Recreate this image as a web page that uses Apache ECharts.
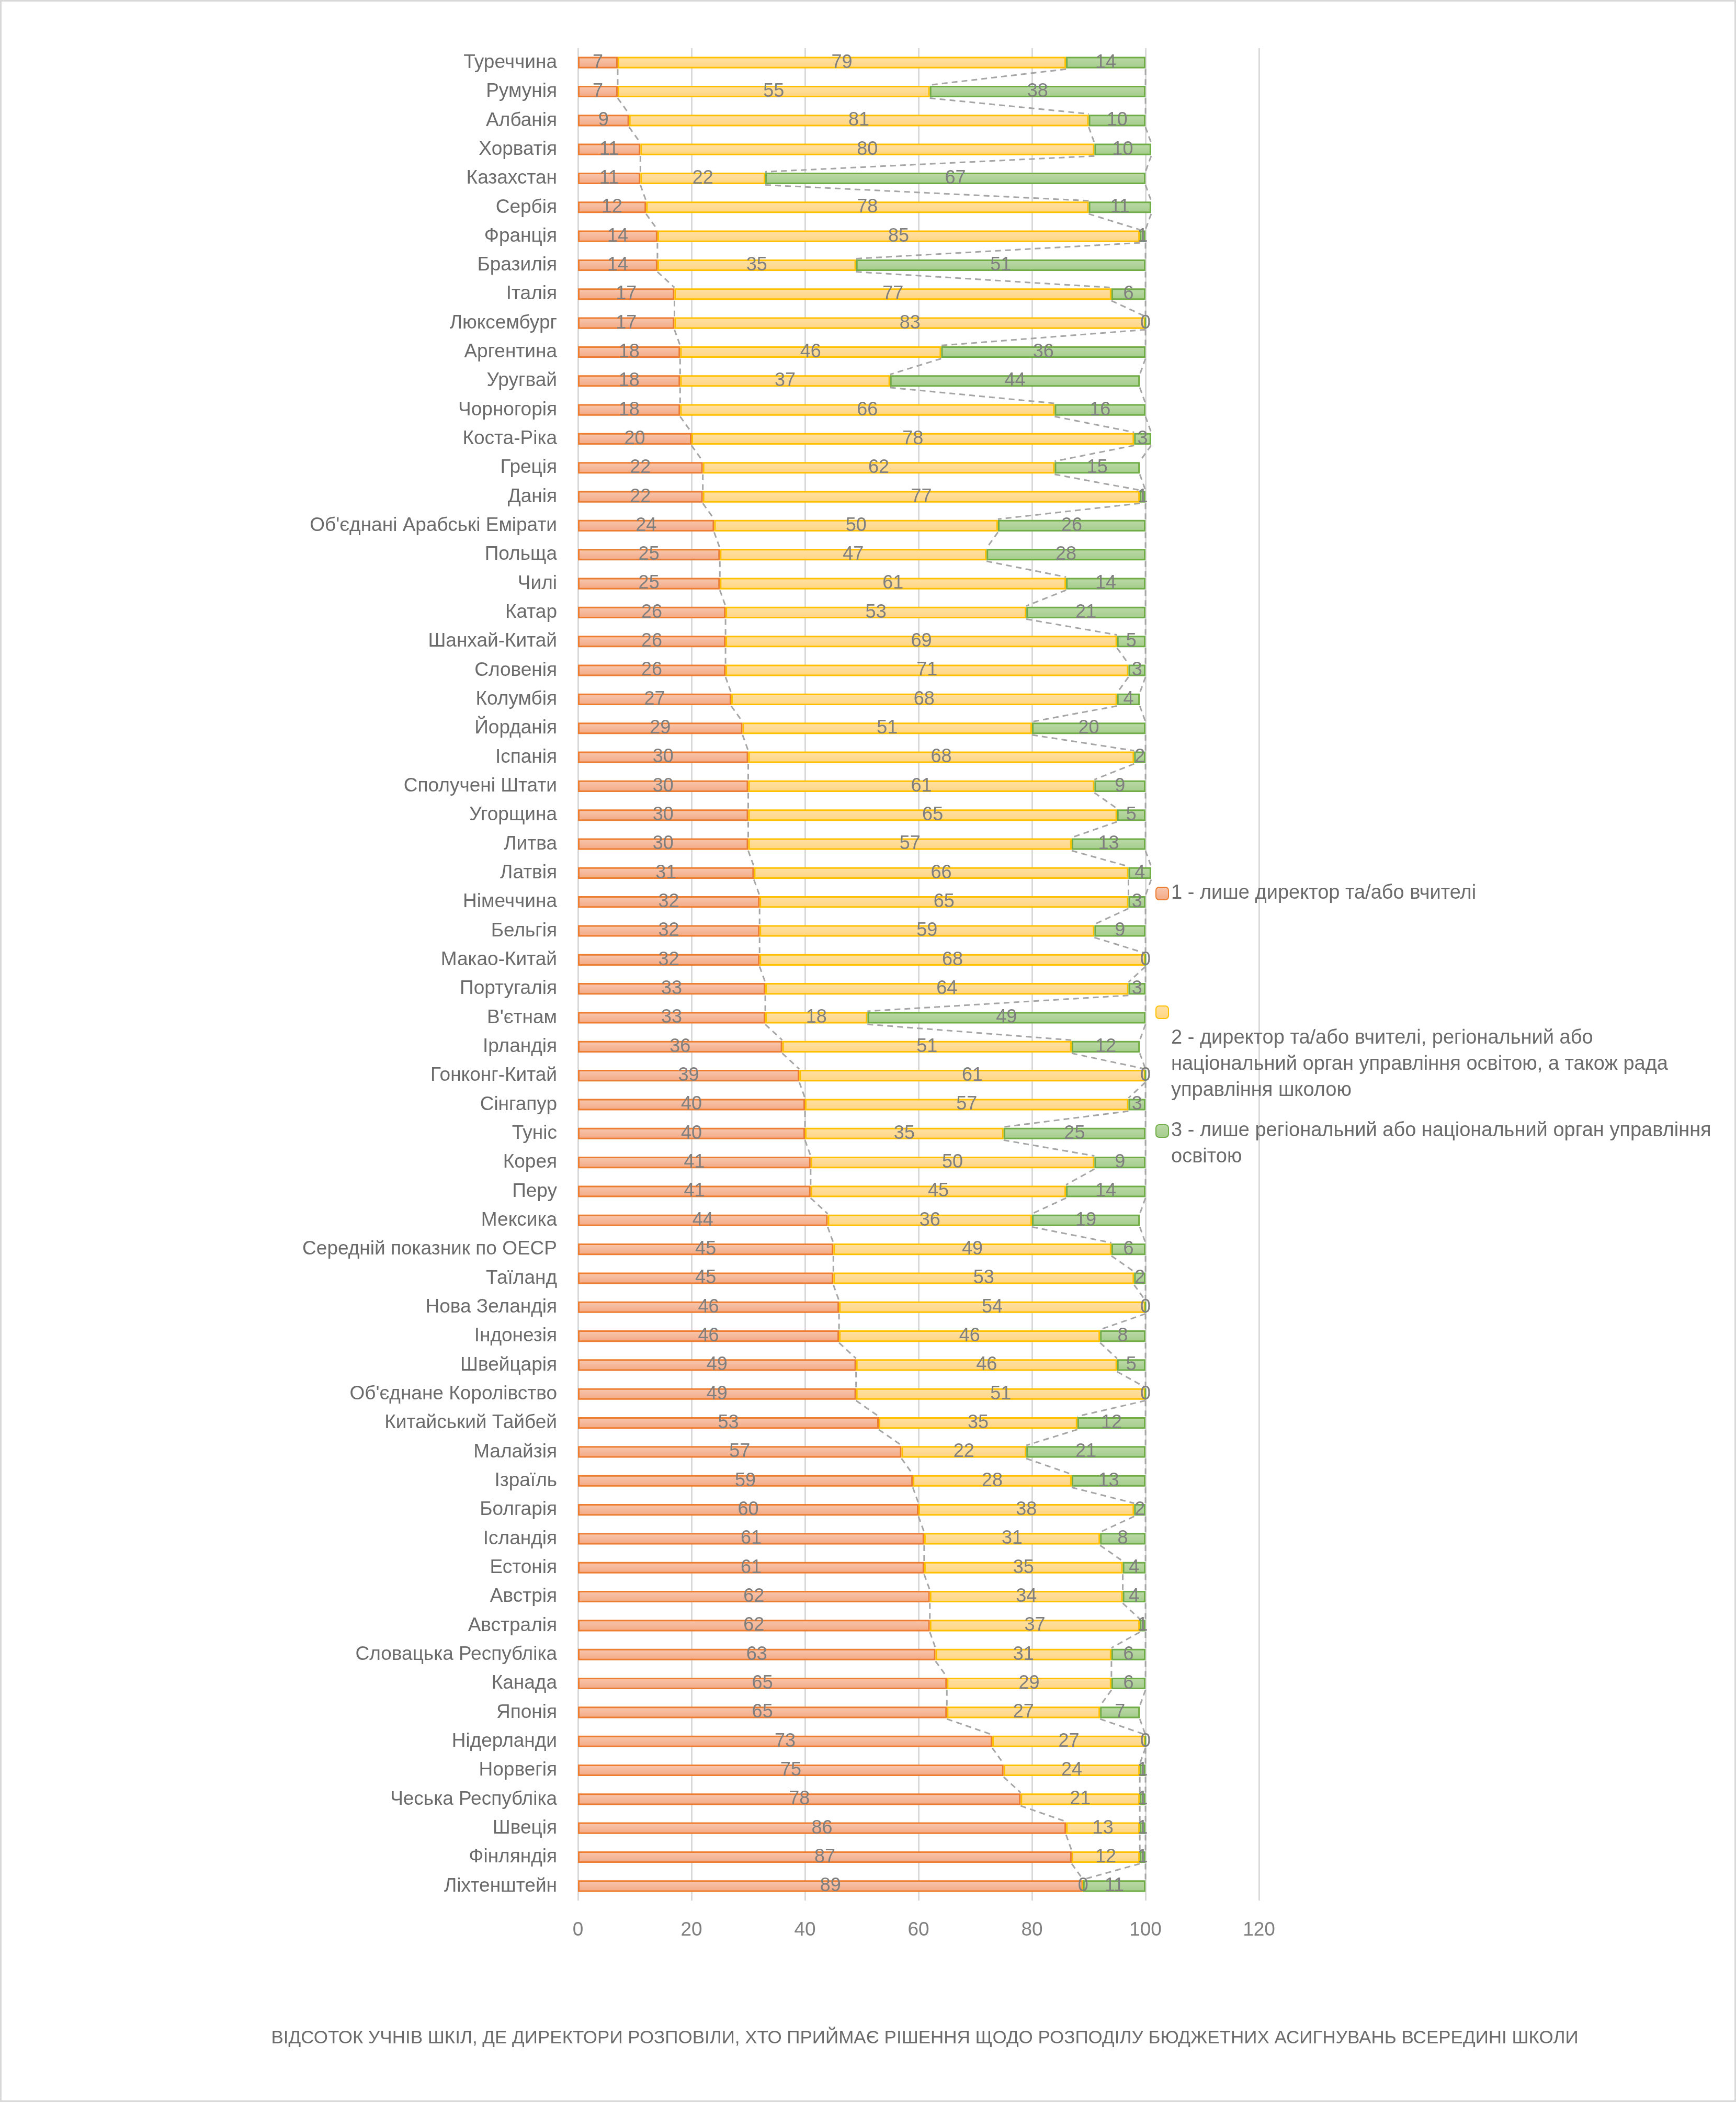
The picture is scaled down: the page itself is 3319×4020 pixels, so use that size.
<!DOCTYPE html>
<html><head><meta charset="utf-8">
<script src="https://cdn.jsdelivr.net/npm/echarts@6/dist/echarts.min.js"></script>
<style>html,body{margin:0;padding:0;background:#fff}#c{width:3319px;height:4020px}</style>
</head><body><div id="c"></div>
<script>
const categories = ["Туреччина","Румунія","Албанія","Хорватія","Казахстан","Сербія","Франція","Бразилія","Італія","Люксембург","Аргентина","Уругвай","Чорногорія","Коста-Ріка","Греція","Данія","Об'єднані Арабські Емірати","Польща","Чилі","Катар","Шанхай-Китай","Словенія","Колумбія","Йорданія","Іспанія","Сполучені Штати","Угорщина","Литва","Латвія","Німеччина","Бельгія","Макао-Китай","Португалія","В'єтнам","Ірландія","Гонконг-Китай","Сінгапур","Туніс","Корея","Перу","Мексика","Середній показник по ОЕСР","Таїланд","Нова Зеландія","Індонезія","Швейцарія","Об'єднане Королівство","Китайський Тайбей","Малайзія","Ізраїль","Болгарія","Ісландія","Естонія","Австрія","Австралія","Словацька Республіка","Канада","Японія","Нідерланди","Норвегія","Чеська Республіка","Швеція","Фінляндія","Ліхтенштейн"];
const seriesNames = ["1 - лише директор та/або вчителі","2 - директор та/або вчителі, регіональний або національний орган управління освітою, а також рада управління школою","3 - лише регіональний або національний орган управління освітою"];
const legendLines = [["1 - лише директор та/або вчителі"],["","","","","2 - директор та/або вчителі, регіональний або","національний орган управління освітою, а також рада","управління школою"],["","3 - лише регіональний або національний орган управління","освітою"]];
const principalOnly = [7,7,9,11,11,12,14,14,17,17,18,18,18,20,22,22,24,25,25,26,26,26,27,29,30,30,30,30,31,32,32,32,33,33,36,39,40,40,41,41,44,45,45,46,46,49,49,53,57,59,60,61,61,62,62,63,65,65,73,75,78,86,87,89];
const shared = [79,55,81,80,22,78,85,35,77,83,46,37,66,78,62,77,50,47,61,53,69,71,68,51,68,61,65,57,66,65,59,68,64,18,51,61,57,35,50,45,36,49,53,54,46,46,51,35,22,28,38,31,35,34,37,31,29,27,27,24,21,13,12,0];
const authorityOnly = [14,38,10,10,67,11,1,51,6,0,36,44,16,3,15,1,26,28,14,21,5,3,4,20,2,9,5,13,4,3,9,0,3,49,12,0,3,25,9,14,19,6,2,0,8,5,0,12,21,13,2,8,4,4,1,6,6,7,0,1,1,1,1,11];
const xTickLabels = ["0","20","40","60","80","100","120"];
const chartTitle = "ВІДСОТОК УЧНІВ ШКІЛ, ДЕ ДИРЕКТОРИ РОЗПОВІЛИ, ХТО ПРИЙМАЄ РІШЕННЯ ЩОДО РОЗПОДІЛУ БЮДЖЕТНИХ АСИГНУВАНЬ ВСЕРЕДИНІ ШКОЛИ";

const FONT = "'Liberation Sans', Arial, sans-serif";
const BAR_FRAC = 0.40;
const stacks = [principalOnly, shared, authorityOnly];
const fills = [
  {top:'#F8C8B0', bottom:'#F3A883', border:'#ED7D31'},
  {top:'#FFE1A6', bottom:'#FFD580', border:'#FFC000'},
  {top:'#BCDAA8', bottom:'#A4CC8B', border:'#70AD47'}
];
function grad(f){return new echarts.graphic.LinearGradient(0,0,0,1,[{offset:0,color:f.top},{offset:1,color:f.bottom}]);}

const chart = echarts.init(document.getElementById('c'), null, {renderer:'canvas'});
const barSeries = stacks.map((arr, k) => ({
  name: seriesNames[k],
  type: 'bar',
  stack: 'total',
  barWidth: (BAR_FRAC*100)+'%',
  data: arr,
  z: 3,
  itemStyle: {color: grad(fills[k]), borderColor: fills[k].border, borderWidth: 3},
  label: {show: true, position: 'inside', color: '#7F7F7F', fontSize: 36, fontFamily: FONT},
  emphasis: {disabled: true}
}));

const seriesLines = {
  type: 'custom',
  coordinateSystem: 'cartesian2d',
  silent: true,
  z: 1,
  encode: {x: 0, y: 1},
  data: categories.map((c, i) => [0, i]),
  renderItem: function(params, api){
    const i = api.value(1);
    if (i >= categories.length - 1) return null;
    const band = api.size([0, 1])[1];
    const h = band * BAR_FRAC / 2 + 1.5;
    const children = [];
    let c0 = 0, c1 = 0;
    for (let k = 0; k < stacks.length; k++) {
      c0 += stacks[k][i]; c1 += stacks[k][i + 1];
      const p0 = api.coord([c0, i]);
      const p1 = api.coord([c1, i + 1]);
      children.push({type: 'line', shape: {x1: p0[0], y1: p0[1] + h, x2: p1[0], y2: p1[1] - h},
        style: {stroke: '#A6A6A6', lineWidth: 3, lineDash: [11, 8]}});
    }
    return {type: 'group', children: children};
  }
};

function legendCfg(k, top){
  return {
    data: [seriesNames[k]], orient: 'vertical', left: 2209, top: top, padding: 0,
    itemWidth: 24, itemHeight: 24, selectedMode: false,
    formatter: () => legendLines[k].join('\n'),
    textStyle: {fontSize: 38, color: '#6B6B6B', fontFamily: FONT, lineHeight: 50}
  };
}

chart.setOption({
  animation: false,
  backgroundColor: '#ffffff',
  textStyle: {fontFamily: FONT},
  grid: {left: 1105, top: 92, width: 1302, height: 3541, containLabel: false},
  xAxis: {
    type: 'value', min: 0, max: 120, interval: 20,
    axisLine: {show: false}, axisTick: {show: false},
    splitLine: {show: true, lineStyle: {color: '#D9D9D9', width: 3}},
    axisLabel: {color: '#7F7F7F', fontSize: 37, fontFamily: FONT, margin: 38,
      formatter: (v) => xTickLabels[Math.round(v / 20)]}
  },
  yAxis: {
    type: 'category', data: categories, inverse: true,
    axisLine: {show: false}, axisTick: {show: false},
    axisLabel: {color: '#6B6B6B', fontSize: 37, fontFamily: FONT, margin: 40, interval: 0}
  },
  legend: [legendCfg(0, 1683), legendCfg(1, 1760), legendCfg(2, 2087)],
  graphic: [
    {type: 'rect', shape: {x: 1.5, y: 1.5, width: 3316, height: 4015}, style: {fill: 'none', stroke: '#D9D9D9', lineWidth: 3}, silent: true},
    {type: 'text', x: 1768, y: 3896, style: {text: chartTitle, fontSize: 35, fill: '#6B6B6B', fontFamily: FONT, textAlign: 'center', textVerticalAlign: 'middle'}}
  ],
  series: [seriesLines].concat(barSeries)
});
</script></body></html>
